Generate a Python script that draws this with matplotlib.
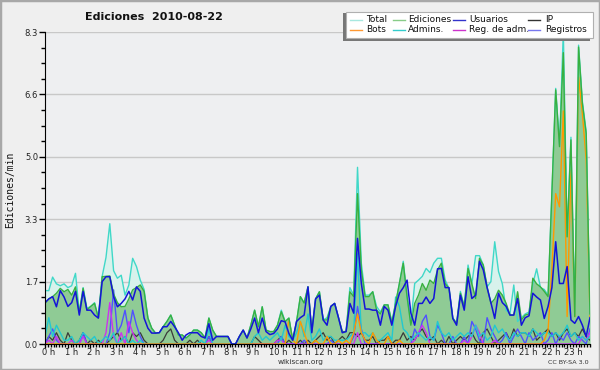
import numpy as np
import matplotlib
matplotlib.use("Agg")
import matplotlib.pyplot as plt
import matplotlib.transforms as mtrans
from matplotlib.lines import Line2D
from matplotlib.patches import Rectangle

title = "Ediciones  2010-08-22"
ylabel = "Ediciones/min"
hour_labels = [f"{h} h" for h in range(24)]
ymax = 8.3

total = [1.42, 1.42, 1.78, 1.6, 1.55, 1.6,
         1.5, 1.55, 1.88, 0.85, 1.5, 0.95,
         1.0, 1.1, 0.7, 1.8, 2.3, 3.2,
         1.95, 1.75, 1.83, 1.3, 1.57, 2.28,
         2.06, 1.7, 1.45, 0.69, 0.42, 0.29,
         0.3, 0.46, 0.6, 0.77, 0.5, 0.24,
         0.24, 0.16, 0.24, 0.37, 0.37, 0.3,
         0.16, 0.69, 0.37, 0.2, 0.2, 0.2,
         0.2, 0.0, 0.0, 0.2, 0.37, 0.16,
         0.5, 0.9, 0.46, 0.99, 0.37, 0.33,
         0.33, 0.5, 0.9, 0.6, 0.69, 0.1,
         0.59, 1.26, 1.09, 1.52, 0.33, 1.2,
         1.39, 0.64, 0.7, 1.0, 1.08, 0.7,
         0.33, 0.33, 1.5, 1.3, 4.7, 2.15,
         1.3, 1.3, 1.39, 1.0, 0.85, 1.04,
         1.04, 0.6, 1.08, 1.61, 2.2, 1.26,
         0.55, 1.61, 1.7, 1.8, 2.01, 1.9,
         2.15, 2.28, 2.28, 1.7, 1.48, 0.7,
         0.55, 1.4, 1.0, 2.1, 1.6, 2.35,
         2.35, 2.1, 1.52, 1.66, 2.72, 1.93,
         1.6, 0.9, 0.8, 1.57, 0.6, 0.7,
         0.8, 0.85, 1.6, 2.0, 1.5, 1.45,
         1.3, 4.0, 6.8, 5.3, 8.3, 2.9,
         5.5, 0.8, 7.95, 6.45, 5.65, 0.8]

ediciones = [1.08, 1.2, 1.26, 1.35, 1.48, 1.39,
             1.45, 1.3, 1.52, 0.82, 1.48, 0.9,
             1.0, 1.08, 0.69, 1.79, 1.8, 1.81,
             1.33, 1.1, 0.99, 1.0, 1.2, 1.44,
             1.5, 1.57, 1.4, 0.69, 0.42, 0.29,
             0.3, 0.46, 0.6, 0.77, 0.5, 0.24,
             0.24, 0.16, 0.24, 0.37, 0.37, 0.3,
             0.16, 0.69, 0.37, 0.2, 0.2, 0.2,
             0.2, 0.0, 0.0, 0.2, 0.37, 0.16,
             0.5, 0.9, 0.46, 0.99, 0.37, 0.33,
             0.33, 0.5, 0.86, 0.59, 0.69, 0.1,
             0.59, 1.26, 1.09, 1.52, 0.33, 1.2,
             1.39, 0.64, 0.64, 1.0, 1.08, 0.7,
             0.33, 0.33, 1.39, 1.26, 4.0, 1.97,
             1.26, 1.26, 1.39, 0.9, 0.8, 1.04,
             1.04, 0.55, 1.08, 1.61, 2.15, 1.26,
             0.5, 1.08, 1.3, 1.61, 1.43, 1.7,
             1.61, 1.97, 2.15, 1.61, 1.48, 0.68,
             0.55, 1.35, 0.99, 2.01, 1.6, 1.21,
             2.28, 2.1, 1.52, 1.08, 1.2, 1.43,
             1.3, 1.08, 0.77, 0.77, 1.39, 0.64,
             0.77, 0.8, 1.75, 1.6, 1.52, 1.4,
             1.26, 4.0, 6.76, 5.25, 7.75, 2.85,
             5.43, 0.73, 7.9, 6.4, 5.6, 0.8]

usuarios = [1.1, 1.2, 1.26, 0.99, 1.42, 1.25,
            1.0, 1.1, 1.4, 0.77, 1.4, 0.9,
            0.9, 0.77, 0.69, 1.66, 1.79, 1.79,
            1.26, 0.99, 1.08, 1.2, 1.4, 1.17,
            1.52, 1.4, 0.69, 0.42, 0.29, 0.29,
            0.3, 0.46, 0.46, 0.6, 0.46, 0.3,
            0.1, 0.24, 0.3, 0.3, 0.3, 0.2,
            0.16, 0.54, 0.1, 0.2, 0.2, 0.2,
            0.2, 0.0, 0.0, 0.2, 0.37, 0.16,
            0.4, 0.69, 0.3, 0.69, 0.33, 0.25,
            0.28, 0.4, 0.62, 0.59, 0.28, 0.1,
            0.6, 0.7, 0.77, 1.52, 0.3, 1.2,
            1.3, 0.64, 0.5, 1.0, 1.08, 0.7,
            0.3, 0.33, 1.08, 0.82, 2.81, 1.61,
            0.93, 0.93, 0.9, 0.9, 0.5, 1.0,
            0.9, 0.5, 1.0, 1.35, 1.5, 1.7,
            0.82, 0.5, 1.08, 1.08, 1.25, 1.08,
            1.21, 2.0, 2.01, 1.5, 1.5, 0.68,
            0.5, 1.3, 0.9, 1.79, 1.21, 1.3,
            2.2, 1.97, 1.5, 1.1, 0.68, 1.35,
            1.1, 1.0, 0.77, 0.77, 1.21, 0.5,
            0.7, 0.75, 1.35, 1.25, 1.17, 0.68,
            1.0, 1.5, 2.72, 1.61, 1.61, 2.06,
            0.64, 0.55, 0.73, 0.5, 0.2, 0.7]

ip = [0, 0.2, 0.1, 0.3, 0.1, 0,
      0.3, 0.1, 0, 0.1, 0.3, 0,
      0.1, 0, 0.1, 0, 0, 0.1,
      0.2, 0.3, 0.1, 0.2, 0, 0.3,
      0.2, 0.3, 0.1, 0, 0, 0,
      0, 0.1, 0.3, 0.4, 0.1, 0,
      0, 0, 0.1, 0, 0.1, 0,
      0, 0.2, 0, 0, 0, 0,
      0, 0, 0, 0, 0, 0,
      0, 0.2, 0.1, 0, 0, 0,
      0, 0.1, 0.2, 0, 0.1, 0,
      0, 0.1, 0, 0.1, 0, 0.1,
      0.2, 0.3, 0.1, 0.2, 0, 0.1,
      0.2, 0.1, 0.3, 0.3, 0.2, 0.3,
      0.1, 0.1, 0.2, 0, 0.1, 0.1,
      0.2, 0, 0.1, 0.1, 0.3, 0.1,
      0.2, 0.1, 0.3, 0.4, 0.2, 0.1,
      0.2, 0, 0.1, 0, 0.2, 0,
      0.1, 0.2, 0.1, 0.2, 0.3, 0.1,
      0, 0.3, 0.4, 0.2, 0, 0.1,
      0.2, 0.3, 0.1, 0.4, 0.2, 0.3,
      0.3, 0.2, 0.4, 0.1, 0.2, 0.3,
      0.4, 0.2, 0.3, 0.1, 0.3, 0.4,
      0.2, 0.3, 0.2, 0.4, 0.2, 0.1]

bots = [0, 0, 0, 0, 0, 0,
        0, 0, 0, 0, 0, 0,
        0, 0, 0, 0, 0, 0,
        0, 0, 0, 0, 0, 0,
        0, 0, 0, 0, 0, 0,
        0, 0, 0, 0, 0, 0,
        0, 0, 0, 0, 0, 0,
        0, 0, 0, 0, 0, 0,
        0, 0, 0, 0, 0, 0,
        0, 0, 0, 0, 0, 0,
        0, 0, 0, 0, 0.65, 0.1,
        0, 0.6, 0.3, 0, 0, 0.1,
        0, 0, 0.2, 0, 0, 0.1,
        0, 0.1, 0, 0.3, 0.8, 0.3,
        0.1, 0, 0.3, 0.1, 0, 0,
        0.2, 0, 0, 0.1, 0, 0,
        0, 0, 0, 0, 0, 0,
        0, 0, 0, 0, 0, 0,
        0, 0, 0, 0, 0, 0,
        0, 0, 0, 0, 0, 0,
        0, 0, 0, 0, 0, 0,
        0, 0, 0, 0, 0, 0.1,
        0.37, 2.0, 4.0, 3.65, 6.2, 0.73,
        4.63, 0.73, 7.1, 6.13, 4.9, 0.73]

admins = [0.2, 0.7, 0.2, 0.5, 0.3, 0.1,
          0.1, 0.2, 0, 0.1, 0.3, 0.2,
          0.1, 0.2, 0, 0.1, 0.2, 0.1,
          0.3, 0, 0.1, 0.2, 0, 0.1,
          0, 0.1, 0, 0, 0, 0,
          0, 0, 0, 0, 0, 0,
          0, 0, 0, 0, 0, 0.1,
          0, 0.4, 0, 0, 0, 0,
          0, 0, 0, 0, 0, 0,
          0, 0.2, 0.3, 0.1, 0.2, 0.1,
          0.2, 0.3, 0.1, 0.5, 0.2, 0.1,
          0.3, 0.6, 0.2, 0.8, 0.1, 0.2,
          0.4, 0.1, 0.2, 0.2, 0.1, 0.1,
          0.1, 0.1, 0.2, 0.3, 2.4, 0.3,
          0.3, 0.2, 0.3, 0.1, 0.1, 0.2,
          0.3, 0.1, 1.25, 1.0, 0.4, 0.3,
          0.1, 0.2, 0.3, 0.2, 0.1, 0.2,
          0.1, 0.6, 0.3, 0.2, 0.3, 0.1,
          0.2, 0.3, 0.2, 0.3, 0.2, 0.5,
          0.2, 0.3, 0.1, 0.2, 0.5, 0.3,
          0.4, 0.2, 0.1, 0.3, 0.2, 0.3,
          0.3, 0.2, 0.4, 0.3, 0.2, 0.3,
          0.3, 0.2, 0.3, 0.2, 0.3, 0.5,
          0.2, 0.3, 0.1, 0.2, 0.1, 0.2]

reg_adm = [0, 0.1, 0, 0.2, 0, 0,
           0, 0.1, 0, 0, 0.2, 0,
           0, 0, 0, 0, 0.3, 1.1,
           0.2, 0, 0.3, 0, 0.6, 0.3,
           0.1, 0, 0, 0, 0, 0,
           0, 0, 0, 0, 0, 0,
           0, 0, 0, 0, 0, 0,
           0, 0.1, 0, 0, 0, 0,
           0, 0, 0, 0, 0, 0,
           0, 0, 0, 0, 0, 0,
           0, 0.1, 0.1, 0, 0, 0,
           0, 0, 0, 0, 0, 0,
           0, 0, 0, 0, 0, 0,
           0, 0, 0, 0, 0.3, 0,
           0, 0, 0, 0, 0, 0,
           0, 0, 0, 0, 0, 0,
           0, 0.1, 0.3, 0.5, 0.3, 0,
           0, 0, 0, 0, 0, 0,
           0, 0, 0.1, 0, 0.2, 0.5,
           0.3, 0, 0, 0, 0.1, 0,
           0, 0, 0, 0, 0, 0,
           0, 0, 0, 0, 0, 0,
           0, 0, 0, 0, 0, 0,
           0, 0, 0, 0.2, 0.1, 0.3]

registros = [0, 0.2, 0.4, 0.1, 0, 0,
             0, 0, 0, 0, 0.3, 0,
             0, 0, 0, 0, 0, 0.3,
             1.44, 0.3, 0.5, 0.9, 0.3, 0.9,
             0.5, 0.2, 0, 0, 0, 0,
             0, 0, 0, 0, 0, 0,
             0, 0, 0, 0, 0, 0,
             0, 0.2, 0, 0, 0, 0,
             0, 0, 0, 0, 0, 0,
             0, 0, 0, 0, 0, 0,
             0, 0, 0.2, 0, 0, 0,
             0, 0, 0.1, 0, 0, 0,
             0, 0, 0, 0.1, 0, 0,
             0, 0, 0, 0.2, 1.0, 0.4,
             0, 0, 0, 0, 0, 0,
             0, 0, 0, 0, 0, 0,
             0, 0.4, 0.2, 0.6, 0.77, 0.2,
             0.1, 0.5, 0.3, 0, 0, 0.2,
             0, 0, 0.2, 0, 0.6, 0.4,
             0.1, 0, 0.7, 0.4, 0.2, 0,
             0.1, 0.3, 0, 0.2, 0.4, 0.2,
             0, 0.3, 0.1, 0.2, 0.3, 0,
             0.1, 0.3, 0, 0.2, 0.1, 0.3,
             0.1, 0, 0.2, 0.1, 0, 0.4]

x = np.linspace(0, 24, len(total))

BG = "#efefef"
fig = plt.figure(figsize=(6, 3.7), dpi=100, facecolor=BG)
ax = fig.add_axes([45/600, 1-344/370, 545/600, 312/370])
ax.set_facecolor("#eeeff1")

for k in range(1, 6):
    ax.axhline(ymax*k/5, color="#c8c8c8", lw=1.0, zorder=0)

ax.fill_between(x, 0, total, color="#d8f2ec", lw=0, zorder=1)
ax.fill_between(x, 0, ediciones, color="#8fcb95", lw=0, zorder=2)

ax.plot(x, ip, color="#3a3a3a", lw=0.9, zorder=3)
ax.plot(x, registros, color="#5050ff", lw=1.0, zorder=3)
ax.plot(x, reg_adm, color="#cc33ee", lw=1.0, zorder=3)
ax.plot(x, admins, color="#22c8d0", lw=1.0, zorder=3)
ax.plot(x, bots, color="#ff9900", lw=1.0, zorder=4)
ax.plot(x, total, color="#40d8c8", lw=1.0, zorder=4)
ax.plot(x, ediciones, color="#38b040", lw=1.0, zorder=5)
ax.plot(x, usuarios, color="#1414d8", lw=1.1, zorder=6)

ax.set_xlim(0, 24)
ax.set_ylim(0, ymax)
for s in ["top", "right"]:
    ax.spines[s].set_visible(False)
for s in ["left", "bottom"]:
    ax.spines[s].set_color("black")
    ax.spines[s].set_zorder(7)

yt = [ymax*k/5 for k in range(6)]
ax.set_yticks(yt)
ax.set_yticklabels([f"{v:.1f}" for v in yt], fontsize=6, color="#222")
ax.set_yticks([ymax*k/20 for k in range(21)], minor=True)
ax.tick_params(axis="y", which="major", length=4, width=1, pad=1)
ax.tick_params(axis="y", which="minor", length=3, width=1)

ax.set_xticks(range(24))
ax.set_xticklabels(hour_labels, fontsize=6, ha="left", color="#222")
ax.set_xticks(np.arange(0, 24.01, 1/8), minor=True)
ax.tick_params(axis="x", which="major", length=2.6, width=1, pad=0.3)
ax.tick_params(axis="x", which="minor", length=2.2, width=1)
off = mtrans.ScaledTranslation(-3/100, 0, fig.dpi_scale_trans)
for lab in ax.get_xticklabels():
    lab.set_transform(lab.get_transform() + off)

fig.text(10/600, 1-190/370, ylabel, rotation=90, ha="center", va="center",
         fontsize=7, family="DejaVu Sans Mono", color="#111")
fig.text(154/600, 1-17/370, title, ha="center", va="center",
         fontsize=8, fontweight="bold", color="#111")
fig.text(301/600, 1-362/370, "wikiscan.org", ha="center", va="center",
         fontsize=5.3, color="#333")
fig.text(589/600, 1-362.5/370, "CC BY-SA 3.0", ha="right", va="center",
         fontsize=4.6, color="#333")

def fx(px):
    return px/600

def fy(py):
    return 1-py/370

fig.patches.append(Rectangle((fx(343), fy(41)), 247/600, 28/370,
                             transform=fig.transFigure, facecolor="#777",
                             edgecolor="none", zorder=10))
fig.patches.append(Rectangle((fx(346), fy(38)), 247/600, 26/370,
                             transform=fig.transFigure, facecolor="white",
                             edgecolor="#b0b0b0", lw=0.8, zorder=11))
leg_names = [["Total", "Ediciones", "Usuarios", "IP"],
             ["Bots", "Admins.", "Reg. de adm.", "Registros"]]
leg_colors = [["#a8e8e0", "#88cc88", "#3333cc", "#333333"],
              ["#ff9933", "#33cccc", "#cc33cc", "#7777ee"]]
hx = [350, 393, 453, 528]
tx = [366, 408, 469, 545]
ry = [19.5, 29.5]
for r in range(2):
    for c in range(4):
        fig.lines.append(Line2D([fx(hx[c]), fx(hx[c]+12)], [fy(ry[r]), fy(ry[r])],
                                transform=fig.transFigure, color=leg_colors[r][c],
                                lw=1.0, zorder=12))
        fig.text(fx(tx[c]), fy(ry[r]), leg_names[r][c], ha="left", va="center",
                 fontsize=6.5, color="#111", zorder=13)

fig.patches.append(Rectangle((0, 0), 1, 1, transform=fig.transFigure,
                             facecolor="none", edgecolor="#a8a8a8", lw=2.5, zorder=20))

fig.savefig("out.png", dpi=100, facecolor=BG)
